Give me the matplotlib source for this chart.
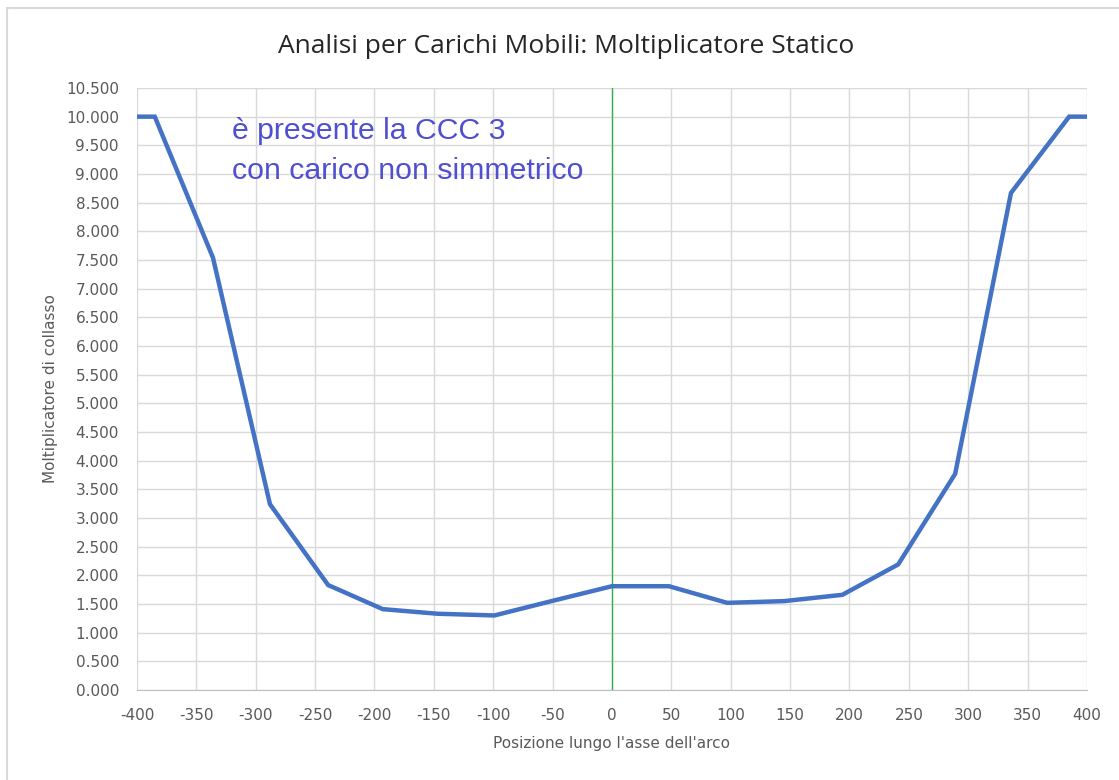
import matplotlib.pyplot as plt
from matplotlib.patches import Rectangle

# posizione lungo l'asse e moltiplicatore di collasso
posizione = [-400, -385, -336, -288, -239, -193, -147, -99, -49, 0, 48, 97, 145, 194, 241, 289, 336, 385, 400]
moltiplicatore = [10.0, 10.0, 7.54, 3.24, 1.83, 1.41, 1.33, 1.30, 1.56, 1.81, 1.81, 1.52, 1.55, 1.66, 2.19, 3.77, 8.67, 10.0, 10.0]

x_ticks = list(range(-400, 401, 50))
y_ticks = [i * 0.5 for i in range(22)]

title = "Analisi per Carichi Mobili: Moltiplicatore Statico"
note = "è presente la CCC 3\ncon carico non simmetrico"

fig = plt.figure(figsize=(11.19, 7.8), dpi=100)
ax = fig.add_axes([0.1224, 0.1154, 0.8490, 0.7718])

# cornice del grafico (tagliata a destra e in basso)
fig.patches.append(Rectangle((0.0063, -0.05), 1.1, 1.0397, transform=fig.transFigure,
                             fill=False, edgecolor='#D9D9D9', lw=1.5))

ax.plot(posizione, moltiplicatore, color='#4472C4', lw=3.2, solid_joinstyle='miter', zorder=3)
ax.axvline(0, color='#2CB34A', lw=1.0, zorder=2)

ax.set_xlim(-400, 400)
ax.set_ylim(0, 10.5)
ax.set_xticks(x_ticks)
ax.set_xticklabels([str(v) for v in x_ticks])
ax.set_yticks(y_ticks)
ax.set_yticklabels([f"{v:.3f}" for v in y_ticks])
ax.grid(True, color='#D9D9D9', lw=1.0)
ax.set_axisbelow(True)
for s in ['top', 'right', 'left']:
    ax.spines[s].set_visible(False)
ax.spines['bottom'].set_color('#BFBFBF')
ax.tick_params(length=0, labelsize=11, labelcolor='#595959')
ax.tick_params(axis='x', pad=13)
ax.tick_params(axis='y', pad=13)

fig.suptitle(title, x=0.506, y=0.956, fontsize=19, color='#262626', family='Open Sans')
ax.set_xlabel("Posizione lungo l'asse dell'arco", fontsize=11, color='#595959', labelpad=9)
ax.set_ylabel("Moltiplicatore di collasso", fontsize=11, color='#595959', labelpad=6)

ax.text(-320, 10.0, note, color='#4F4FD0', fontsize=21.8, va='top', ha='left',
        family='Liberation Sans', linespacing=1.55)

fig.savefig('out.png', dpi=100, facecolor='white')
